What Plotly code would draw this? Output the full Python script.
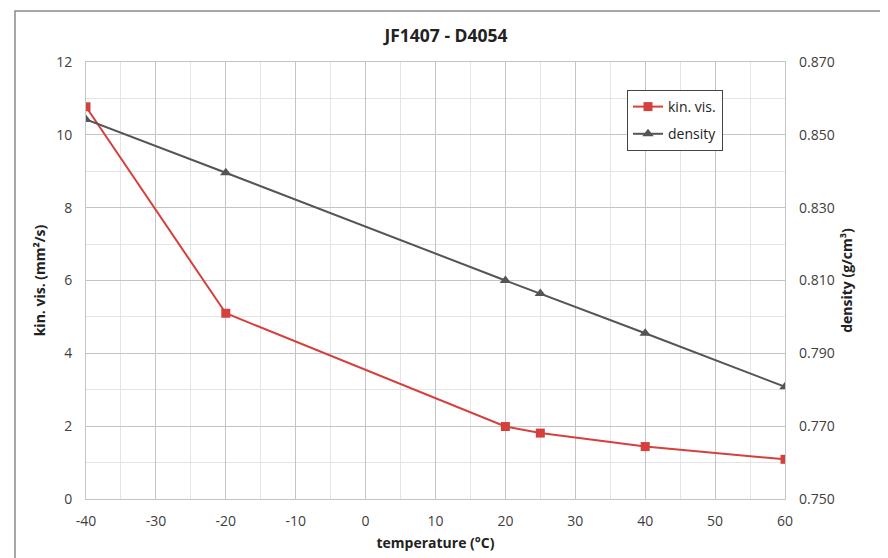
import plotly.graph_objects as go

temperature = [-40, -20, 20, 25, 40, 60]
kin_vis = [10.77, 5.10, 1.99, 1.81, 1.44, 1.09]
density = [0.8542, 0.8396, 0.8100, 0.8064, 0.7955, 0.7808]

x_ticks = [-40, -30, -20, -10, 0, 10, 20, 30, 40, 50, 60]
y_ticks = [0, 2, 4, 6, 8, 10, 12]
y2_ticks = [0.750, 0.770, 0.790, 0.810, 0.830, 0.850, 0.870]

FONT = "Open Sans"
RED = "#d6403c"
GREY = "#555555"
TXT = "#404040"

fig = go.Figure()
fig.add_trace(go.Scatter(
    x=temperature, y=kin_vis, name="kin. vis.", mode="lines+markers", legendgroup="a",
    line=dict(color=RED, width=2), marker=dict(symbol="square", size=9, color=RED),
))
fig.add_trace(go.Scatter(
    x=temperature, y=density, name="density", mode="lines+markers", yaxis="y2", legendgroup="b",
    line=dict(color=GREY, width=2), marker=dict(symbol="triangle-up", size=10, color=GREY),
))

OFF = 7  # page body offset
W, H = 888, 558
# target plot area in window pixels
PL, PR, PT, PB = 85, 784, 61, 498
L = PL - OFF
R = W - (PR - OFF)
T = PT - OFF
B = H - (PB - OFF)
pw, ph = PR - PL, PB - PT


def px(xp):
    return (xp - PL) / pw


def py(yp):
    return (PB - yp) / ph


fig.update_layout(
    width=W, height=H,
    margin=dict(l=L, r=R, t=T, b=B, autoexpand=False),
    paper_bgcolor="white", plot_bgcolor="white",
    font=dict(family=FONT, size=14, color=TXT),
    title=dict(text="<b>JF1407 - D4054</b>", x=(445 - OFF) / W, xanchor="center",
               y=1 - (35 - OFF) / H, yanchor="middle", font=dict(size=17.5, color="#222222")),
    showlegend=True,
    legend=dict(x=px(626), y=py(89), xanchor="left", yanchor="top",
                bgcolor="white", bordercolor="#444444", borderwidth=1,
                font=dict(size=14, color="#222222"), itemwidth=30, tracegroupgap=6),
    xaxis=dict(
        range=[-40, 60], tickvals=x_ticks, ticktext=[str(v) for v in x_ticks],
        showgrid=True, gridcolor="#c4c4c4", gridwidth=1,
        minor=dict(dtick=5, showgrid=True, gridcolor="#e4e4e4", gridwidth=1),
        showline=True, linecolor="#c4c4c4", mirror=True, zeroline=False,
        ticks="", ticklen=0, ticklabelstandoff=9, automargin=False,
        title=dict(text="<b>temperature (°C)</b>", font=dict(size=14, color="#222222"), standoff=9),
        tickfont=dict(size=14, color=TXT),
    ),
    yaxis=dict(
        range=[0, 12], tickvals=y_ticks, ticktext=[str(v) for v in y_ticks],
        showgrid=True, gridcolor="#c4c4c4", gridwidth=1,
        minor=dict(dtick=1, showgrid=True, gridcolor="#e4e4e4", gridwidth=1),
        showline=True, linecolor="#c4c4c4", mirror=True, zeroline=False,
        ticks="", ticklen=0, ticklabelstandoff=10, automargin=False,
        title=dict(text="<b>kin. vis. (mm²/s)</b>", font=dict(size=14, color="#222222"), standoff=7),
        tickfont=dict(size=14, color=TXT),
    ),
    yaxis2=dict(
        range=[0.75, 0.87], tickvals=y2_ticks, ticktext=[f"{v:.3f}" for v in y2_ticks],
        overlaying="y", side="right", showgrid=False, zeroline=False,
        showline=False, ticks="", ticklen=0, ticklabelstandoff=13, automargin=False,
        title=dict(text="<b>density (g/cm³)</b>", font=dict(size=14, color="#222222"), standoff=8),
        tickfont=dict(size=14, color=TXT),
    ),
    shapes=[
        dict(type="rect", xref="paper", yref="paper",
             x0=px(14), x1=px(905), y0=py(580), y1=py(10),
             line=dict(color="#8a8a8a", width=1.5), fillcolor="rgba(0,0,0,0)", layer="below"),
    ],
)

fig.write_html("out.html")
